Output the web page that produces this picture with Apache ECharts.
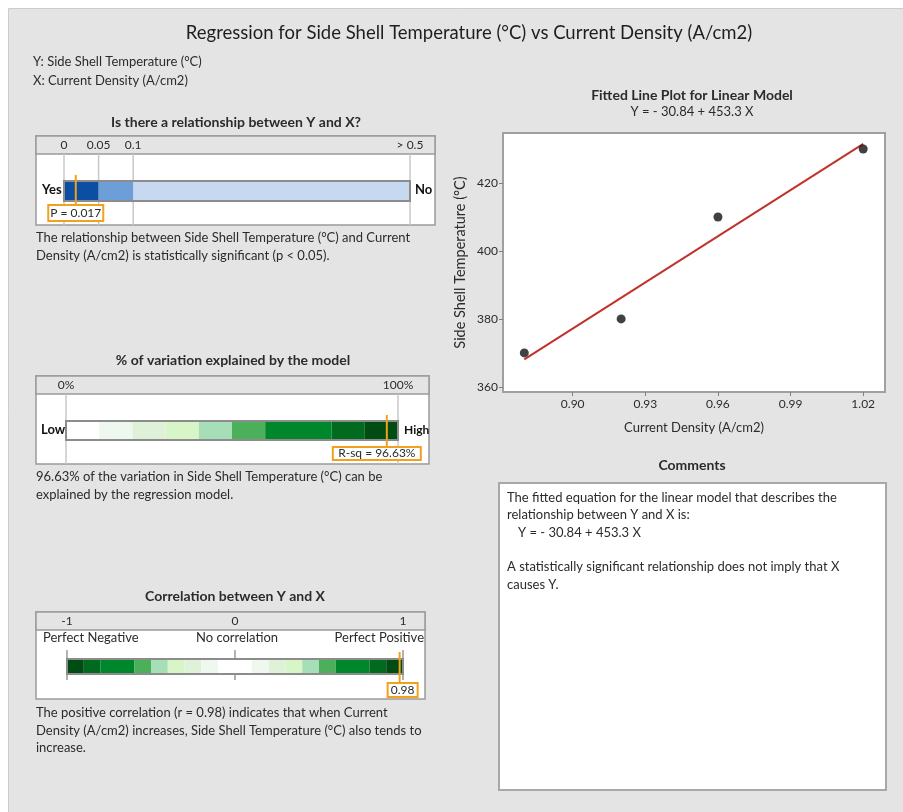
<!DOCTYPE html>
<html>
<head>
<meta charset="utf-8">
<script src="https://cdn.jsdelivr.net/npm/echarts@6/dist/echarts.min.js"></script>
<style>html,body{margin:0;padding:0;background:#fff;}#c{width:903px;height:812px;}</style>
</head>
<body>
<div id="c"></div>
<script>
// ---------- DATA ----------
const pBands = [0, 0.05, 0.1, 0.5];
const pTickValues = [0, 0.05, 0.1, 0.5];
const pTickLabels = ['0', '0.05', '0.1', '> 0.5'];
const pValue = 0.017;

const rsqBands = [0, 10, 20, 30, 40, 50, 60, 80, 90, 100];
const rsqTickValues = [0, 100];
const rsqTickLabels = ['0%', '100%'];
const rsqValue = 96.63;

const corrBands = [-1, -0.9, -0.8, -0.6, -0.5, -0.4, -0.3, -0.2, -0.1, 0.1, 0.2, 0.3, 0.4, 0.5, 0.6, 0.8, 0.9, 1];
const corrTickValues = [-1, 0, 1];
const corrTickLabels = ['-1', '0', '1'];
const corrValue = 0.98;

const densityX = [0.88, 0.92, 0.96, 1.02];
const temperatureY = [370, 380, 410, 430];
const fitX = [0.88, 1.02];
const fitY = [368.1, 431.5];
const xTicks = [0.90, 0.93, 0.96, 0.99, 1.02];
const yTicks = [360, 380, 400, 420];

// ---------- STYLES ----------
const FONT = 'Lato, "Open Sans", sans-serif';
const TXT = '#2b2b2b';
const pColors = ['#0b4ea2', '#6d9ed8', '#c6d9f0'];
const rsqColors = ['#ffffff', '#eff8ee', '#e0f1da', '#d7f5c6', '#a6dfb7', '#4caf5a', '#00862b', '#006a1e', '#004c12'];
const corrColors = ['#004c12', '#006a1e', '#00862b', '#4caf5a', '#a6dfb7', '#d7f5c6', '#e0f1da', '#eff8ee', '#ffffff',
                    '#eff8ee', '#e0f1da', '#d7f5c6', '#a6dfb7', '#4caf5a', '#00862b', '#006a1e', '#004c12'];
const ORANGE = '#f2a11f';

function near(a, b) { return Math.abs(a - b) < 1e-9; }
function labelFor(values, labels) {
  return function (v) { for (let i = 0; i < values.length; i++) if (near(v, values[i])) return labels[i]; return ''; };
}
function bandData(b) { return b.slice(0, -1).map((s, i) => [s, b[i + 1], i]); }

function bandSeries(gi, bands, colors, top, h) {
  return {
    type: 'custom', xAxisIndex: gi, yAxisIndex: gi, z: 3,
    data: bandData(bands),
    renderItem: function (params, api) {
      const x0 = api.coord([api.value(0), 0])[0];
      const x1 = api.coord([api.value(1), 0])[0];
      return { type: 'rect', shape: { x: x0, y: top, width: x1 - x0, height: h }, style: { fill: colors[api.value(2)] } };
    }
  };
}
function frameSeries(gi, bands, top, h) {
  return {
    type: 'custom', xAxisIndex: gi, yAxisIndex: gi, z: 4,
    data: [[bands[0], bands[bands.length - 1]]],
    renderItem: function (params, api) {
      const x0 = api.coord([api.value(0), 0])[0];
      const x1 = api.coord([api.value(1), 0])[0];
      return { type: 'rect', shape: { x: x0, y: top, width: x1 - x0, height: h }, style: { fill: 'none', stroke: '#8c8c8c', lineWidth: 2 } };
    }
  };
}
function vlineSeries(gi, values, y0, y1, color) {
  return {
    type: 'custom', xAxisIndex: gi, yAxisIndex: gi, z: 2,
    data: values.map(v => [v]),
    renderItem: function (params, api) {
      const x = api.coord([api.value(0), 0])[0];
      return { type: 'line', shape: { x1: x, y1: y0, x2: x, y2: y1 }, style: { stroke: color, lineWidth: 1.5 } };
    }
  };
}
function markerSeries(gi, value, text, y0, y1, boxW, boxDx, boxTop, boxH) {
  return {
    type: 'custom', xAxisIndex: gi, yAxisIndex: gi, z: 6,
    data: [[value]],
    renderItem: function (params, api) {
      const x = api.coord([api.value(0), 0])[0];
      return {
        type: 'group', children: [
          { type: 'line', shape: { x1: x, y1: y0, x2: x, y2: y1 }, style: { stroke: ORANGE, lineWidth: 2 } },
          { type: 'rect', shape: { x: x - boxW / 2 + boxDx, y: boxTop, width: boxW, height: boxH }, style: { fill: '#fff', stroke: ORANGE, lineWidth: 2 } },
          { type: 'text', style: { text: text, x: x + boxDx, y: boxTop + boxH / 2, align: 'center', textAlign: 'center', verticalAlign: 'middle', textVerticalAlign: 'middle', font: '12px ' + FONT, fill: TXT } }
        ]
      };
    }
  };
}
function barAxisX(gi, min, max, interval, values, labels) {
  return {
    gridIndex: gi, type: 'value', min: min, max: max, interval: interval, position: 'top',
    axisLine: { show: false }, axisTick: { show: false }, splitLine: { show: false },
    axisLabel: { formatter: labelFor(values, labels), color: TXT, fontSize: 12, fontFamily: FONT, margin: 3, showMinLabel: true, showMaxLabel: true }
  };
}
function hiddenY(gi) { return { gridIndex: gi, type: 'value', min: 0, max: 1, show: false }; }

function T(text, x, y, opt) {
  opt = opt || {};
  const a = opt.align || 'left';
  return {
    type: 'text', z: 10,
    style: {
      text: text, x: x, y: y, fill: opt.fill || TXT,
      font: (opt.bold ? 'bold ' : '') + (opt.size || 13) + 'px ' + FONT,
      align: a, textAlign: a, verticalAlign: 'middle', textVerticalAlign: 'middle'
    }
  };
}
function R(x, y, w, h, fill, stroke, lw, z) {
  return { type: 'rect', z: z === undefined ? -5 : z, shape: { x: x, y: y, width: w, height: h }, style: { fill: fill, stroke: stroke || null, lineWidth: lw || 0 } };
}

const graphics = [
  R(0, 0, 903, 812, '#ffffff', null, 0, -20),
  R(8.5, 8.5, 900, 810, '#e4e4e4', '#cccccc', 1, -19),
  T('Regression for Side Shell Temperature (°C) vs Current Density (A/cm2)', 469, 33, { size: 18.5, align: 'center', fill: '#1e1e1e' }),
  T('Y: Side Shell Temperature (°C)', 33, 62, { size: 13 }),
  T('X: Current Density (A/cm2)', 33, 81, { size: 13 }),

  // Panel 1
  T('Is there a relationship between Y and X?', 236, 122, { bold: true, size: 14, align: 'center' }),
  R(36, 136, 399, 89, '#ffffff', '#9a9a9a', 1.5),
  R(36, 136, 399, 18, '#e4e4e4', '#9a9a9a', 1.5),
  T('Yes', 42, 190, { bold: true, size: 13, fill: '#111' }),
  T('No', 415, 190, { bold: true, size: 13, fill: '#111' }),
  T('The relationship between Side Shell Temperature (°C) and Current', 36, 238),
  T('Density (A/cm2) is statistically significant (p < 0.05).', 36, 256),

  // Panel 2
  T('% of variation explained by the model', 233, 360, { bold: true, size: 14, align: 'center' }),
  R(36, 376, 393, 88, '#ffffff', '#9a9a9a', 1.5),
  R(36, 376, 393, 18, '#e4e4e4', '#9a9a9a', 1.5),
  T('Low', 41, 430, { bold: true, size: 13, fill: '#111' }),
  T('High', 404, 430, { bold: true, size: 12, fill: '#111' }),
  T('96.63% of the variation in Side Shell Temperature (°C) can be', 36, 477),
  T('explained by the regression model.', 36, 495),

  // Panel 3
  T('Correlation between Y and X', 235, 596, { bold: true, size: 14, align: 'center' }),
  R(36, 612, 389, 87, '#ffffff', '#9a9a9a', 1.5),
  R(36, 612, 389, 18, '#e4e4e4', '#9a9a9a', 1.5),
  T('Perfect Negative', 43, 638),
  T('No correlation', 237, 638, { align: 'center' }),
  T('Perfect Positive', 424, 638, { align: 'right' }),
  T('The positive correlation (r = 0.98) indicates that when Current', 36, 713),
  T('Density (A/cm2) increases, Side Shell Temperature (°C) also tends to', 36, 731),
  T('increase.', 36, 748),

  // Scatter titles
  T('Fitted Line Plot for Linear Model', 692, 95, { bold: true, size: 14, align: 'center' }),
  T('Y = - 30.84 + 453.3 X', 692, 112, { size: 13, align: 'center' }),

  // Comments
  T('Comments', 692, 465, { bold: true, size: 14, align: 'center' }),
  R(499, 483, 387, 307, '#ffffff', '#a8a8a8', 2),
  T('The fitted equation for the linear model that describes the', 507, 498),
  T('relationship between Y and X is:', 507, 515),
  T('Y = - 30.84 + 453.3 X', 518, 533),
  T('A statistically significant relationship does not imply that X', 507, 567),
  T('causes Y.', 507, 585)
];

const chart = echarts.init(document.getElementById('c'), null, { renderer: 'canvas' });
chart.setOption({
  animation: false,
  backgroundColor: 'transparent',
  textStyle: { fontFamily: FONT },
  graphic: { elements: graphics },
  grid: [
    { left: 64, top: 154, width: 346, height: 71 },
    { left: 66, top: 394, width: 332, height: 70 },
    { left: 67, top: 630, width: 336, height: 69 },
    { left: 503, top: 133, width: 382, height: 259, show: true, backgroundColor: '#ffffff', borderColor: '#a0a0a0', borderWidth: 2 }
  ],
  xAxis: [
    barAxisX(0, 0, 0.5, 0.05, pTickValues, pTickLabels),
    barAxisX(1, 0, 100, 100, rsqTickValues, rsqTickLabels),
    barAxisX(2, -1, 1, 1, corrTickValues, corrTickLabels),
    {
      gridIndex: 3, type: 'value', min: 0.8712, max: 1.029,
      name: 'Current Density (A/cm2)', nameLocation: 'middle', nameGap: 29,
      nameTextStyle: { fontSize: 13, color: TXT, fontFamily: FONT },
      axisLine: { show: false },
      axisTick: { show: true, length: 4, lineStyle: { color: '#808080' }, customValues: xTicks },
      axisLabel: { customValues: xTicks, formatter: v => v.toFixed(2), fontSize: 12, color: TXT, margin: 6, fontFamily: FONT },
      splitLine: { show: false }
    }
  ],
  yAxis: [
    hiddenY(0), hiddenY(1), hiddenY(2),
    {
      gridIndex: 3, type: 'value', min: 358.5, max: 434.7,
      name: 'Side Shell Temperature (°C)', nameLocation: 'middle', nameGap: 35,
      nameTextStyle: { fontSize: 14.5, color: TXT, fontFamily: FONT },
      axisLine: { show: false },
      axisTick: { show: true, length: 4, lineStyle: { color: '#808080' }, customValues: yTicks },
      axisLabel: { customValues: yTicks, formatter: v => String(Math.round(v)), fontSize: 12, color: TXT, margin: 5, fontFamily: FONT },
      splitLine: { show: false }
    }
  ],
  series: [
    // Panel 1
    vlineSeries(0, pTickValues, 154, 225, '#c8c8c8'),
    bandSeries(0, pBands, pColors, 181, 20),
    frameSeries(0, pBands, 181, 20),
    markerSeries(0, pValue, 'P = ' + pValue, 175, 206, 55, 0, 205, 16),
    // Panel 2
    vlineSeries(1, rsqTickValues, 394, 464, '#c8c8c8'),
    bandSeries(1, rsqBands, rsqColors, 421, 19),
    frameSeries(1, rsqBands, 421, 19),
    markerSeries(1, rsqValue, 'R-sq = ' + rsqValue.toFixed(2) + '%', 415, 447, 88, -10, 447, 13),
    // Panel 3
    vlineSeries(2, corrTickValues, 650, 680, '#999999'),
    bandSeries(2, corrBands, corrColors, 659, 15),
    frameSeries(2, corrBands, 659, 15),
    markerSeries(2, corrValue, corrValue.toFixed(2), 652, 684, 30, 3, 683, 14),
    // Scatter
    {
      type: 'line', xAxisIndex: 3, yAxisIndex: 3, z: 3,
      data: fitX.map((x, i) => [x, fitY[i]]),
      symbol: 'none', lineStyle: { color: '#c0322b', width: 2 }
    },
    {
      type: 'scatter', xAxisIndex: 3, yAxisIndex: 3, z: 4,
      data: densityX.map((x, i) => [x, temperatureY[i]]),
      symbolSize: 9, itemStyle: { color: '#111111' }
    }
  ]
});
</script>
</body>
</html>
